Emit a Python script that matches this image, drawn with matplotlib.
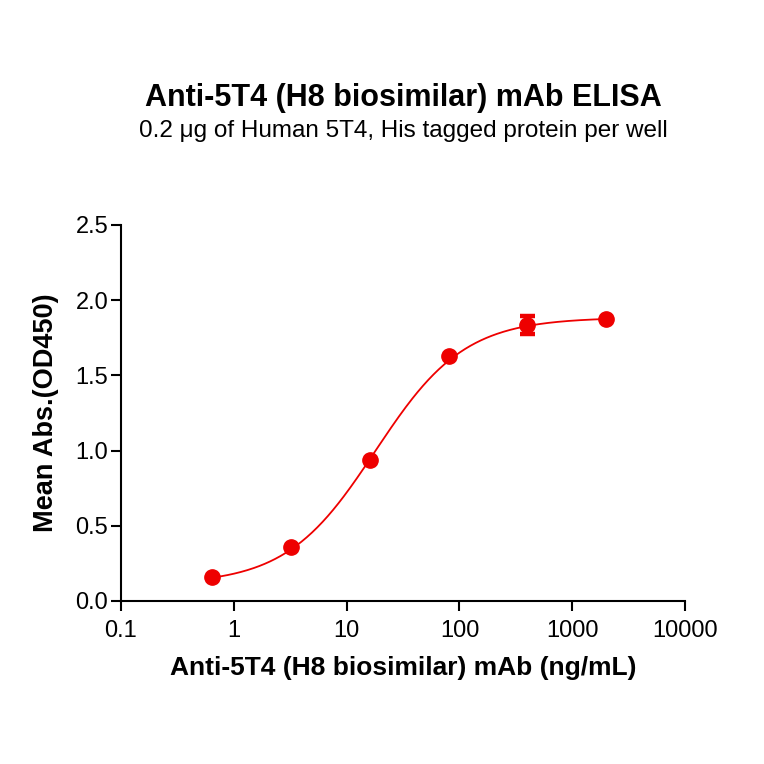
import numpy as np
import matplotlib
matplotlib.use("Agg")
import matplotlib.pyplot as plt
from matplotlib.ticker import FixedLocator, NullLocator

plt.rcParams['font.family'] = ['Liberation Sans', 'DejaVu Sans']

# Data
conc = [0.64, 3.2, 16, 80, 400, 2000]
mean_abs = [0.16, 0.36, 0.94, 1.63, 1.835, 1.875]
sd_abs = [0.0, 0.0, 0.0, 0.0, 0.062, 0.0]

# 4PL fit parameters
fit_bottom = 0.11
fit_top = 1.885
fit_ec50 = 18.0
fit_hill = 1.1

xticks = [0.1, 1, 10, 100, 1000, 10000]
xticklabels = ["0.1", "1", "10", "100", "1000", "10000"]
yticks = [0.0, 0.5, 1.0, 1.5, 2.0, 2.5]
yticklabels = ["0.0", "0.5", "1.0", "1.5", "2.0", "2.5"]

fig = plt.figure(figsize=(7.64, 7.64), dpi=100)
ax = fig.add_axes([0.158, 0.2134, 0.739, 0.4921])

xs = np.logspace(np.log10(conc[0]), np.log10(conc[-1]), 300)
ys = fit_bottom + (fit_top - fit_bottom) / (1 + (fit_ec50 / xs) ** fit_hill)
ax.plot(xs, ys, color='#ee0000', lw=1.3, zorder=2)
ax.errorbar(conc, mean_abs, yerr=sd_abs, fmt='o', color='#ee0000', ms=11,
            capsize=5.4, capthick=3.2, elinewidth=3, zorder=3)

ax.set_xscale('log')
ax.set_xlim(0.1, 10000)
ax.set_ylim(0, 2.5)
ax.xaxis.set_major_locator(FixedLocator(xticks))
ax.xaxis.set_minor_locator(NullLocator())
ax.set_xticks(xticks)
ax.set_xticklabels(xticklabels)
ax.set_yticks(yticks)
ax.set_yticklabels(yticklabels)
ax.tick_params(axis='both', direction='out', length=7, width=1.5, labelsize=17, colors='black')
ax.tick_params(axis='x', pad=7)
ax.tick_params(axis='y', pad=2)
for s in ['top', 'right']:
    ax.spines[s].set_visible(False)
for s in ['left', 'bottom']:
    ax.spines[s].set_linewidth(1.5)

ax.set_xlabel("Anti-5T4 (H8 biosimilar) mAb (ng/mL)", fontsize=19, fontweight='bold', labelpad=10)
ax.set_ylabel("Mean Abs.(OD450)", fontsize=19.5, fontweight='bold', labelpad=12)

cx = (121 + 685) / 2 / 764
fig.text(cx, 1 - 98 / 764, "Anti-5T4 (H8 biosimilar) mAb ELISA", ha='center', va='center',
         fontsize=22, fontweight='bold')
fig.text(cx, 1 - 131 / 764, "0.2 \u03bcg of Human 5T4, His tagged protein per well", ha='center', va='center',
         fontsize=17.5)

fig.savefig("out.png", dpi=100)
